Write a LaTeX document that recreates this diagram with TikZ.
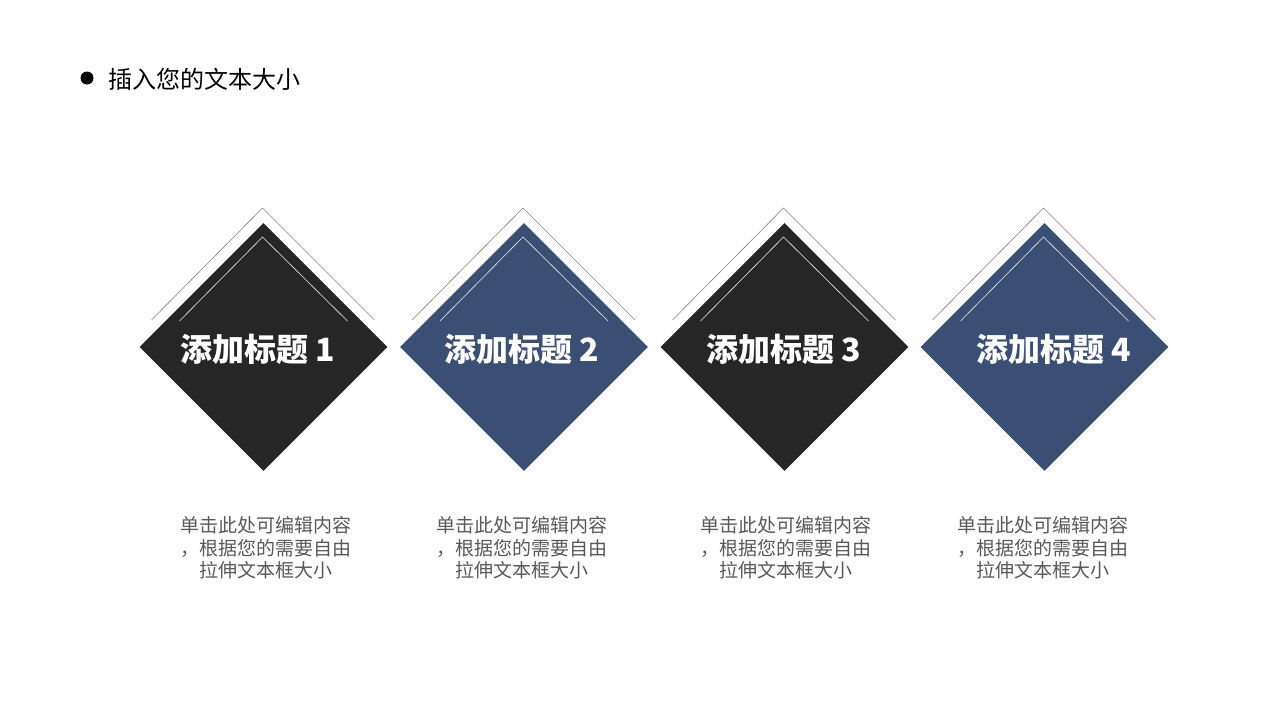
\documentclass[tikz,border=0pt]{standalone}
\usepackage{fontspec}
\setmainfont{Noto Sans CJK SC}
\newfontfamily\cjk{Noto Sans CJK SC}
\usetikzlibrary{shapes.geometric}
\definecolor{darkbox}{HTML}{262626}
\definecolor{bluebox}{HTML}{3B4E74}
\definecolor{desctext}{HTML}{595959}
\definecolor{outline}{HTML}{808080}
\tikzset{
  dia/.style={diamond, aspect=1, minimum width=248pt, minimum height=248pt, inner sep=0pt, draw=none},
  ttl/.style={text=white, font=\cjk\bfseries\fontsize{32}{36}\selectfont, inner sep=0pt},
  desc/.style={text=desctext, font=\cjk\fontsize{19}{22.5}\selectfont, align=center, inner sep=0pt},
  outerline/.style={draw=outline, line width=0.6pt},
  innerline/.style={draw=white!85!gray, line width=0.6pt}
}
\begin{document}
\begin{tikzpicture}[x=1pt,y=-1pt]
\useasboundingbox (0,0) rectangle (1280,720);
\fill[black] (87,78) circle (6.5);
\node[anchor=west, inner sep=0pt, font=\cjk\fontsize{24}{28}\selectfont] (head) at (108,79) {插入您的文本大小};

\foreach \i/\cx/\col/\tx/\dx in {1/263.5/darkbox/258/265.5, 2/524/bluebox/522/521.5, 3/784.5/darkbox/783.5/785.5, 4/1044.5/bluebox/1054/1042.5}{
  \coordinate (oa\i) at (\cx-112,320);
  \coordinate (ob\i) at (\cx-1,208);
  \coordinate (oc\i) at (\cx+111,320);
  \draw[outerline] (oa\i) -- (ob\i) -- (oc\i);
  \node[dia, fill=\col] (d\i) at (\cx,347) {};
  \coordinate (ia\i) at (\cx-84,321);
  \coordinate (ib\i) at (\cx-1,237);
  \coordinate (ic\i) at (\cx+84,321);
  \draw[innerline] (ia\i) -- (ib\i) -- (ic\i);
  \node[ttl] (t\i) at (\tx,349) {添加标题 \i};
  \node[desc] (s\i) at (\dx,548) {单击此处可编辑内容\\，根据您的需要自由\\拉伸文本框大小};
}
\end{tikzpicture}
\end{document}
